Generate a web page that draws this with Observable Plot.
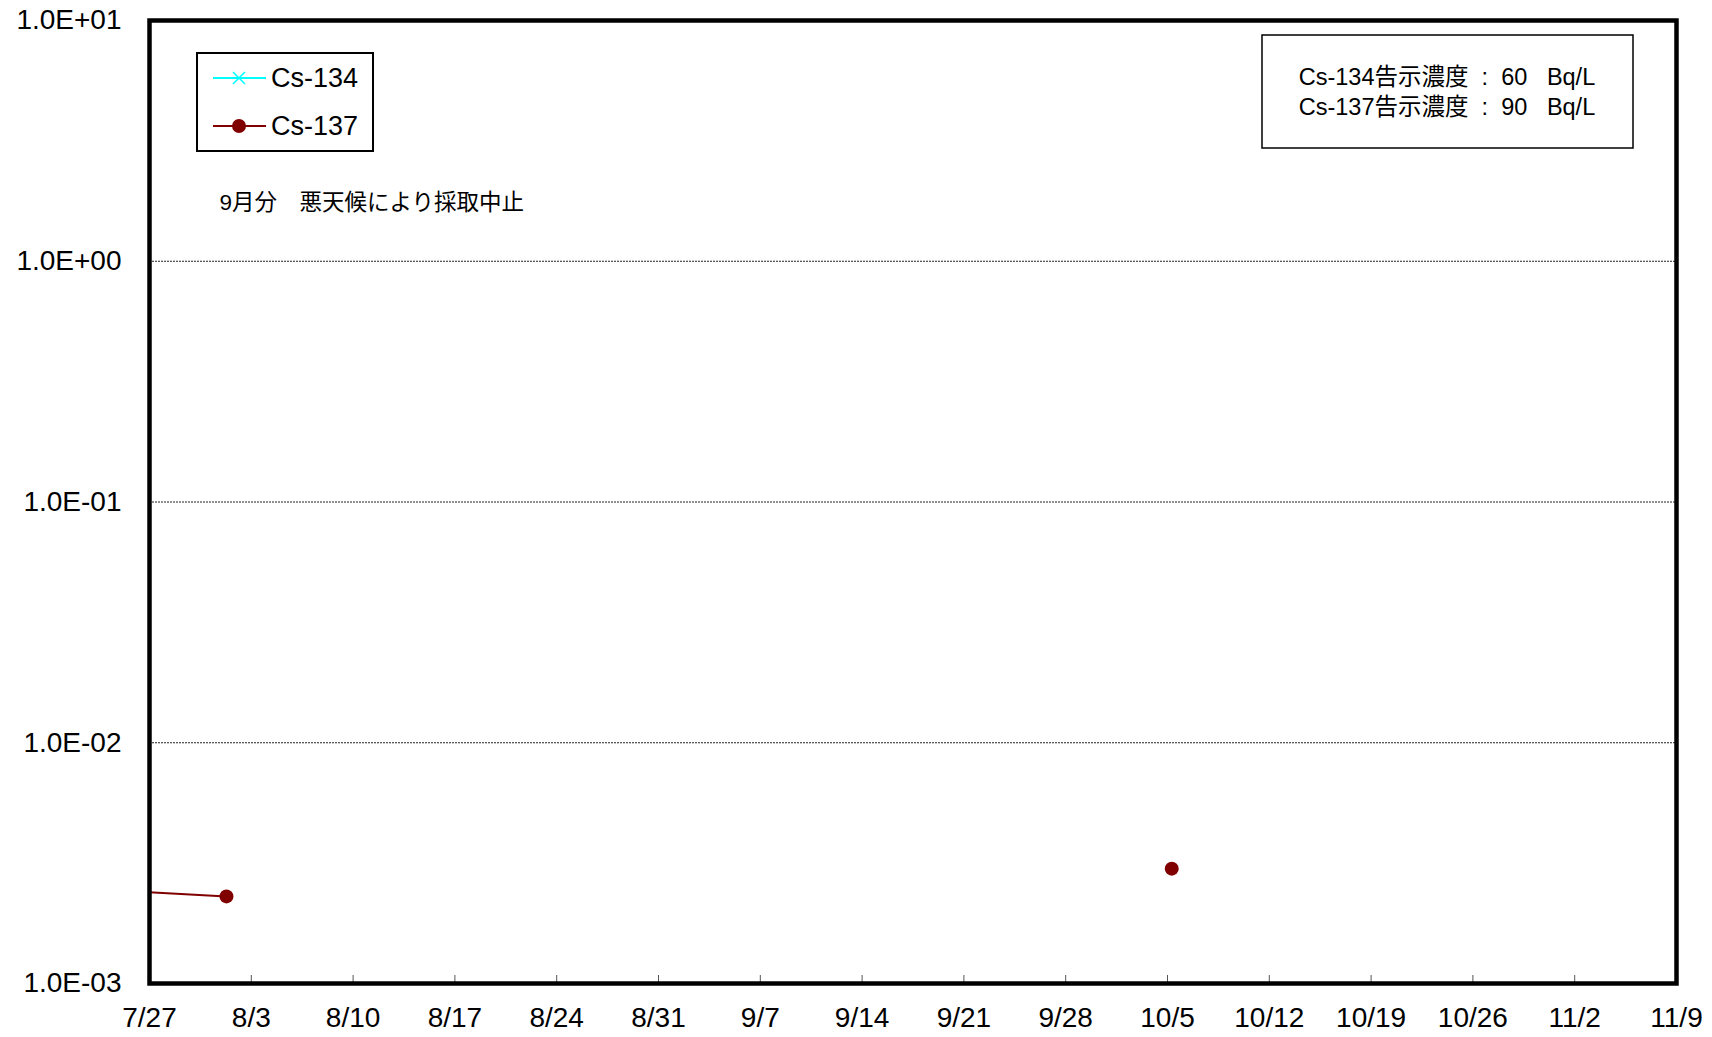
<!DOCTYPE html>
<html><head><meta charset="utf-8">
<script src="https://cdn.jsdelivr.net/npm/d3@7"></script>
<script src="https://cdn.jsdelivr.net/npm/@observablehq/plot@0.6"></script>
<style>body{margin:0;background:#fff} svg{display:block}</style>
</head><body><div id="chart"></div>
<script>
// ---- data ----
const year = 2013;
const xTickLabels = ["7/27","8/3","8/10","8/17","8/24","8/31","9/7","9/14","9/21","9/28","10/5","10/12","10/19","10/26","11/2","11/9"];
const yTickValues = [1e-3, 1e-2, 1e-1, 1e0, 1e1];
const yTickLabels = ["1.0E-03","1.0E-02","1.0E-01","1.0E+00","1.0E+01"];
const seriesNames = ["Cs-134", "Cs-137"];
const seriesColors = ["#00FFFF", "#800000"];
// Cs-134: not detected (no points drawn)
const cs134Dates = [];
const cs134Values = [];
// Cs-137 (Bq/L); September sample cancelled (null)
const cs137Dates = ["2013-07-05T07:00Z","2013-08-01T07:00Z","2013-09-05T07:00Z","2013-10-05T07:00Z"];
const cs137Values = [0.0028, 0.0023, null, 0.0030];
const limitLines = ["Cs-134告示濃度\u00a0\u00a0:\u00a0\u00a060\u00a0\u00a0\u00a0Bq/L", "Cs-137告示濃度\u00a0\u00a0:\u00a0\u00a090\u00a0\u00a0\u00a0Bq/L"];
const note = "9月分\u3000悪天候により採取中止";

// ---- build ----
const font = '"Liberation Sans", Arial, "Noto Sans CJK JP", sans-serif';
const parseTick = s => { const [m, d] = s.split("/").map(Number); return new Date(Date.UTC(year, m - 1, d)); };
const tickDates = xTickLabels.map(parseTick);
const labelOf = new Map(tickDates.map((d, i) => [+d, xTickLabels[i]]));
const yLabelOf = new Map(yTickValues.map((v, i) => [v, yTickLabels[i]]));
const cs137 = cs137Dates.map((d, i) => ({date: new Date(d), value: cs137Values[i]}));
const cs134 = cs134Dates.map((d, i) => ({date: new Date(d), value: cs134Values[i]}));

const W = 1712, H = 1037;
const plot = Plot.plot({
  width: W, height: H,
  marginLeft: 149, marginRight: 36, marginTop: 20, marginBottom: 54,
  style: {fontFamily: font, fontSize: "28px", color: "black", background: "white"},
  x: {type: "utc", domain: [tickDates[0], tickDates[tickDates.length - 1]], label: null},
  y: {type: "log", domain: [yTickValues[0], yTickValues[yTickValues.length - 1]], label: null},
  marks: [
    Plot.ruleY(yTickValues.slice(1, -1), {stroke: "#222", strokeWidth: 1, strokeDasharray: "2,1"}),
    Plot.tickX(tickDates.slice(1, -1), {x: d => d, insetTop: 955, stroke: "#555", strokeWidth: 1}),
    Plot.line(cs134, {x: "date", y: "value", stroke: seriesColors[0], strokeWidth: 2, clip: true}),
    Plot.dot(cs134.filter(d => d.value != null), {x: "date", y: "value", symbol: "times", stroke: seriesColors[0], r: 6, clip: true}),
    Plot.line(cs137, {x: "date", y: "value", stroke: seriesColors[1], strokeWidth: 2, clip: true}),
    Plot.dot(cs137.filter(d => d.value != null), {x: "date", y: "value", fill: seriesColors[1], r: 7, clip: true}),
    Plot.text([note], {frameAnchor: "top-left", dx: 70, dy: 182, lineAnchor: "middle", textAnchor: "start", fontSize: 22.5, fill: "black"}),
    Plot.axisX({ticks: tickDates, tickFormat: d => labelOf.get(+d), tickSize: 0, tickPadding: 24, fontSize: 28, label: null}),
    Plot.axisY({ticks: yTickValues, tickFormat: d => yLabelOf.get(d), tickSize: 0, tickPadding: 28, fontSize: 28, label: null}),
    Plot.frame({stroke: "black", strokeWidth: 4.5})
  ]
});
document.getElementById("chart").appendChild(plot);

// ---- legend & annotation box ----
const svg = d3.select(plot);
const g = svg.append("g").attr("font-family", font).attr("fill", "black");
g.append("rect").attr("x", 197).attr("y", 53).attr("width", 176).attr("height", 98)
  .attr("fill", "white").attr("stroke", "black").attr("stroke-width", 2);
seriesNames.forEach((name, i) => {
  const y = 78 + i * 48;
  g.append("line").attr("x1", 213).attr("x2", 266).attr("y1", y).attr("y2", y)
    .attr("stroke", seriesColors[i]).attr("stroke-width", 2);
  if (i === 0) {
    g.append("path").attr("d", `M${239-6},${y-6}L${239+6},${y+6}M${239-6},${y+6}L${239+6},${y-6}`)
      .attr("stroke", seriesColors[i]).attr("stroke-width", 1.5);
  } else {
    g.append("circle").attr("cx", 239).attr("cy", y).attr("r", 7).attr("fill", seriesColors[i]);
  }
  g.append("text").attr("x", 271).attr("y", y).attr("dy", "0.35em")
    .attr("text-anchor", "start").attr("font-size", 27).text(name);
});
g.append("rect").attr("x", 1262).attr("y", 35).attr("width", 371).attr("height", 113)
  .attr("fill", "white").attr("stroke", "black").attr("stroke-width", 1.5);
limitLines.forEach((t, i) => {
  g.append("text").attr("x", 1447).attr("y", 77 + i * 30).attr("dy", "0.35em")
    .attr("text-anchor", "middle").attr("font-size", 23.5).text(t);
});
</script></body></html>
